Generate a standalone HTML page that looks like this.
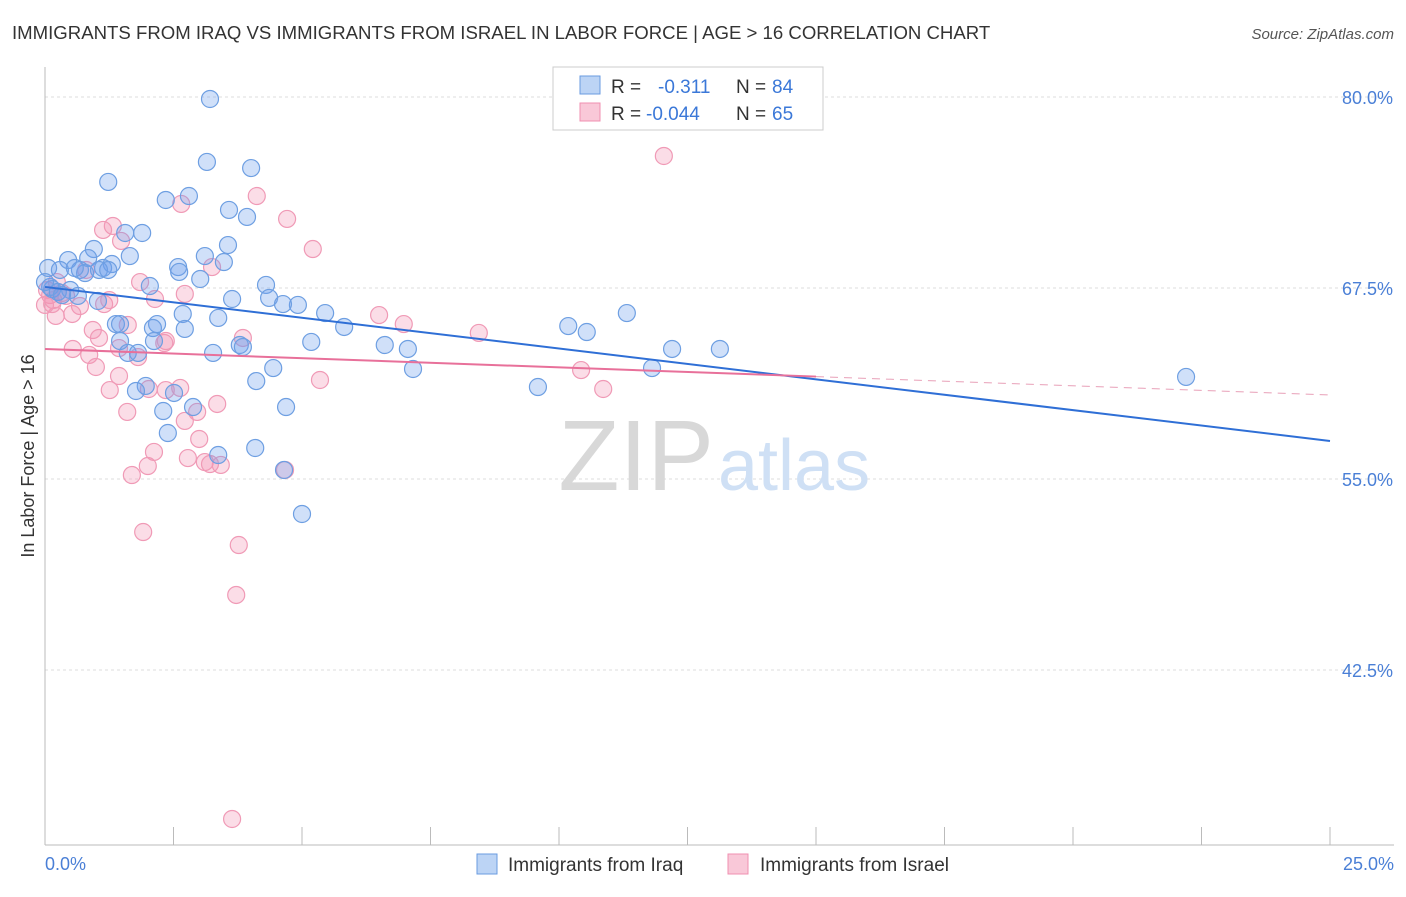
<!DOCTYPE html>
<html><head><meta charset="utf-8"><style>
body{margin:0;background:#fff;font-family:"Liberation Sans",sans-serif;}
svg text{font-family:"Liberation Sans",sans-serif;}
</style></head><body>
<svg id="chart" width="1406" height="892">
<text x="12" y="39" font-size="18.6" fill="#333">IMMIGRANTS FROM IRAQ VS IMMIGRANTS FROM ISRAEL IN LABOR FORCE | AGE &gt; 16 CORRELATION CHART</text>
<text x="1394" y="39" font-size="15" fill="#555" font-style="italic" text-anchor="end">Source: ZipAtlas.com</text>
<g id="grid"></g>
<g id="axes"></g>
<text x="714" y="490" font-size="100" fill="#d8d8d8" text-anchor="end" font-family="Liberation Serif">ZIP</text>
<text x="718" y="490" font-size="72" fill="#cfe0f5">atlas</text>
<g id="pts"></g>
<g id="lines"></g>
<text transform="translate(34,456) rotate(-90)" font-size="18" fill="#333" text-anchor="middle">In Labor Force | Age &gt; 16</text>
<text x="45" y="870" font-size="18" fill="#4a7fd6">0.0%</text>
<text x="1394" y="870" font-size="18" fill="#4a7fd6" text-anchor="end">25.0%</text>
<g>
<rect x="553" y="67" width="270" height="63" fill="#fff" stroke="#ccc"/>
<rect x="580" y="76" width="20" height="18" fill="#bcd4f5" stroke="#6a9be0"/>
<rect x="580" y="103" width="20" height="18" fill="#f9c8d8" stroke="#f08fb0"/>
<text x="611" y="93" font-size="19" fill="#333">R = </text><text x="658" y="93" font-size="19" fill="#3b78d8">-0.311</text>
<text x="736" y="93" font-size="19" fill="#333">N = </text><text x="772" y="93" font-size="19" fill="#3b78d8">84</text>
<text x="611" y="120" font-size="19" fill="#333">R = </text><text x="646" y="120" font-size="19" fill="#3b78d8">-0.044</text>
<text x="736" y="120" font-size="19" fill="#333">N = </text><text x="772" y="120" font-size="19" fill="#3b78d8">65</text>
</g>
<g>
<rect x="477" y="854" width="20" height="20" fill="#bcd4f5" stroke="#6a9be0"/>
<text x="508" y="871" font-size="19" fill="#333">Immigrants from Iraq</text>
<rect x="728" y="854" width="20" height="20" fill="#f9c8d8" stroke="#f08fb0"/>
<text x="760" y="871" font-size="19" fill="#333">Immigrants from Israel</text>
</g>
</svg>
<script>
const yTicks=[80,67.5,55,42.5];
const yTickLabels=["80.0%","67.5%","55.0%","42.5%"];
const xTicks=[0,2.5,5,7.5,10,12.5,15,17.5,20,22.5,25];
const iraqX=[3.21,3.15,4.01,1.23,2.80,2.35,3.58,3.93,1.89,1.56,3.56,0.95,3.11,1.65,3.48,0.45,0.84,1.30,2.59,0.06,0.29,0.68,1.13,1.05,0.78,2.61,3.02,4.30,2.04,0.49,0.14,0.64,3.64,4.36,4.92,4.63,1.03,5.45,2.68,11.32,3.37,1.38,1.46,2.18,2.10,2.72,5.82,10.18,10.54,2.12,5.18,1.46,3.79,3.85,6.61,7.06,12.20,13.13,1.61,1.81,3.27,4.44,7.16,11.81,4.11,1.96,1.77,2.51,9.59,22.20,2.88,2.30,4.69,2.39,3.37,4.09,4.65,5.00,0.10,0.25,0.00,0.33,1.23,0.58];
const iraqY=[79.87,75.75,75.35,74.44,73.52,73.26,72.61,72.15,71.10,71.10,70.31,70.05,69.59,69.59,69.20,69.33,69.46,69.07,68.87,68.81,68.68,68.68,68.81,68.68,68.48,68.55,68.09,67.70,67.63,67.37,67.43,66.98,66.78,66.85,66.39,66.45,66.65,65.86,65.80,65.86,65.54,65.14,65.14,65.14,64.88,64.82,64.95,65.01,64.62,64.03,63.97,64.03,63.77,63.64,63.77,63.51,63.51,63.51,63.25,63.25,63.25,62.26,62.20,62.26,61.41,61.09,60.76,60.63,61.02,61.68,59.71,59.45,59.71,58.01,56.57,57.03,55.59,52.71,67.57,67.24,67.89,67.04,68.68,68.81];
const israelX=[12.04,4.12,2.65,4.71,1.32,1.13,1.48,5.21,3.25,1.85,0.23,0.04,0.10,0.33,2.72,2.14,1.15,0.68,0.53,0.21,0.14,1.61,0.93,1.05,3.85,2.35,2.32,6.50,6.98,8.44,1.44,0.54,0.86,1.81,0.99,10.43,5.35,1.44,2.63,2.35,1.26,2.02,10.86,3.35,1.60,2.72,3.00,2.12,2.78,3.11,2.00,3.42,4.67,3.21,1.69,1.91,3.77,3.72,3.64,0.16,0.41,0.00,0.80,1.25,2.96];
const israelY=[76.14,73.52,73.00,72.02,71.56,71.30,70.58,70.05,68.87,67.89,67.89,67.37,67.04,67.17,67.11,66.78,66.45,66.32,65.80,65.67,66.45,65.08,64.75,64.23,64.23,64.03,63.90,65.73,65.14,64.56,63.57,63.51,63.12,62.98,62.33,62.13,61.48,61.74,60.96,60.82,60.82,60.89,60.89,59.91,59.39,58.80,57.62,56.77,56.37,56.11,55.85,55.92,55.59,55.98,55.26,51.53,50.68,47.41,32.75,66.71,66.98,66.39,68.68,66.71,59.39];
const iraqTrend=[67.57,57.49];
const israelTrend=[63.51,60.5];
const israelSolidEnd=15;

const NS="http://www.w3.org/2000/svg";
const X0=45,X1=1330,Y80=97,PX=191/12.5;
const sx=v=>X0+(X1-X0)*v/25;
const sy=v=>Y80+(80-v)*PX;
function mk(tag,attrs,parent){const e=document.createElementNS(NS,tag);for(const k in attrs)e.setAttribute(k,attrs[k]);parent.appendChild(e);return e;}
const grid=document.getElementById('grid'),axes=document.getElementById('axes'),pts=document.getElementById('pts'),lines=document.getElementById('lines');
yTicks.forEach((t,i)=>{
 const l=mk('line',{x1:X0,x2:1394,y1:sy(t),y2:sy(t),stroke:'#ddd','stroke-dasharray':'3,3'},grid);
 
 
 const tx=mk('text',{x:1393,y:sy(t)+7,'font-size':18,fill:'#4a7fd6','text-anchor':'end'},axes);
 tx.textContent=yTickLabels[i];
 
 
});
const yb=845;
let ax=mk('line',{x1:X0,x2:X0,y1:67,y2:yb,stroke:'#bbb'},axes);


ax=mk('line',{x1:X0,x2:1394,y1:yb,y2:yb,stroke:'#bbb'},axes);


xTicks.forEach(t=>{
 const l=mk('line',{x1:sx(t),x2:sx(t),y1:yb,y2:yb-18,stroke:'#bbb'},axes);
 
 
});
function drawPts(xs,ys,fill,stroke,name){
 xs.forEach((x,i)=>{
  const c=mk('circle',{cx:sx(x),cy:sy(ys[i]),r:8.5,fill:fill,stroke:stroke,'stroke-width':1.2},pts);
  
  
 });
}
drawPts(israelX,israelY,'rgba(244,150,180,0.32)','#f09ab6','israel-point');
drawPts(iraqX,iraqY,'rgba(110,160,235,0.32)','#6e9fe2','iraq-point');
let tl=mk('line',{x1:sx(0),y1:sy(iraqTrend[0]),x2:sx(25),y2:sy(iraqTrend[1]),stroke:'#2f6fd6','stroke-width':2},lines);


const pAt=x=>israelTrend[0]+(israelTrend[1]-israelTrend[0])*x/25;
tl=mk('line',{x1:sx(0),y1:sy(pAt(0)),x2:sx(israelSolidEnd),y2:sy(pAt(israelSolidEnd)),stroke:'#e8709a','stroke-width':2},lines);


tl=mk('line',{x1:sx(israelSolidEnd),y1:sy(pAt(israelSolidEnd)),x2:sx(25),y2:sy(pAt(25)),stroke:'#e8a0b8','stroke-width':1,'stroke-dasharray':'8,6'},lines);


</script>
</body></html>
